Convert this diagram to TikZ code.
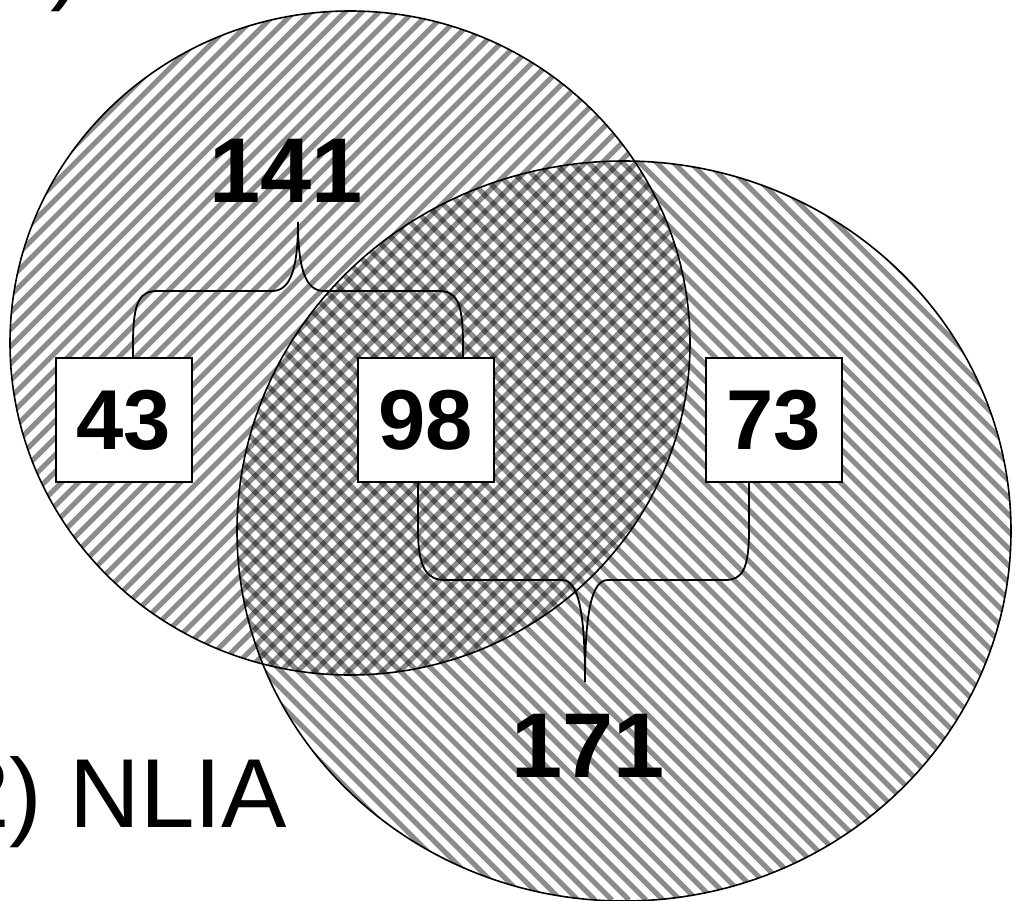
\documentclass[tikz,border=0pt]{standalone}
\usepackage{fontspec}
\setmainfont{Liberation Sans}
\begin{document}
\begin{tikzpicture}[x=1pt,y=-1pt,
  stripe/.style={line width=5pt,black,opacity=0.45},
  outline/.style={line width=1.6pt,black},
  numbox/.style={draw,line width=2pt,fill=white,minimum width=136pt,minimum height=124pt,inner sep=0pt,font=\fontsize{85}{90}\selectfont\bfseries},
  biglabel/.style={inner sep=0pt,font=\fontsize{92}{100}\selectfont\bfseries},
  brace/.style={line width=1.8pt,black},
  title/.style={inner sep=0pt,font=\fontsize{98}{100}\selectfont}]
\clip (0,0) rectangle (1015,900);
\fill[white] (0,0) rectangle (1015,900);
% left set stripes (/)
\begin{scope}
  \clip (350,343) ellipse [x radius=340pt, y radius=332pt];
  \foreach \c in {0,17,...,1400} {\draw[stripe] (\c-700,700) -- (\c,0);}
\end{scope}
% right set stripes (\)
\begin{scope}
  \clip (624,531) ellipse [x radius=387pt, y radius=370pt];
  \foreach \c in {0,17,...,1700} {\draw[stripe] (\c-900,0) -- (\c,900);}
\end{scope}
\draw[outline] (350,343) ellipse [x radius=340pt, y radius=332pt];
\draw[outline] (624,531) ellipse [x radius=387pt, y radius=370pt];
% boxes
\node[numbox] (b43) at (124,420) {43};
\node[numbox] (b98) at (426,420) {98};
\node[numbox] (b73) at (774,420) {73};
% labels
\node[biglabel] (l141) at (286,171) {141};
\node[biglabel] (l171) at (588,746) {171};
\coordinate (t141) at (298,222);
\coordinate (t171) at (585,682);
% braces
\draw[brace] (b43.north -| 133,0) -- (133,345) .. controls (133,300) and (140,291) .. (158,291) -- (272,291)
  .. controls (290,291) and (298,270) .. (t141)
  .. controls (298,270) and (306,291) .. (324,291) -- (438,291)
  .. controls (456,291) and (463,300) .. (463,345) -- (b98.north -| 463,0);
\draw[brace] (b98.south -| 418,0) -- (418,530) .. controls (418,570) and (428,580) .. (445,580) -- (562,580)
  .. controls (578,580) and (585,610) .. (t171)
  .. controls (585,610) and (592,580) .. (608,580) -- (725,580)
  .. controls (742,580) and (749,570) .. (749,530) -- (b73.south -| 749,0);
% titles
\node[title,anchor=base west] (tt) at (-45,827) {2) NLIA};
\node[title,anchor=base west] (tp) at (50,-9) {)};
\end{tikzpicture}
\end{document}
